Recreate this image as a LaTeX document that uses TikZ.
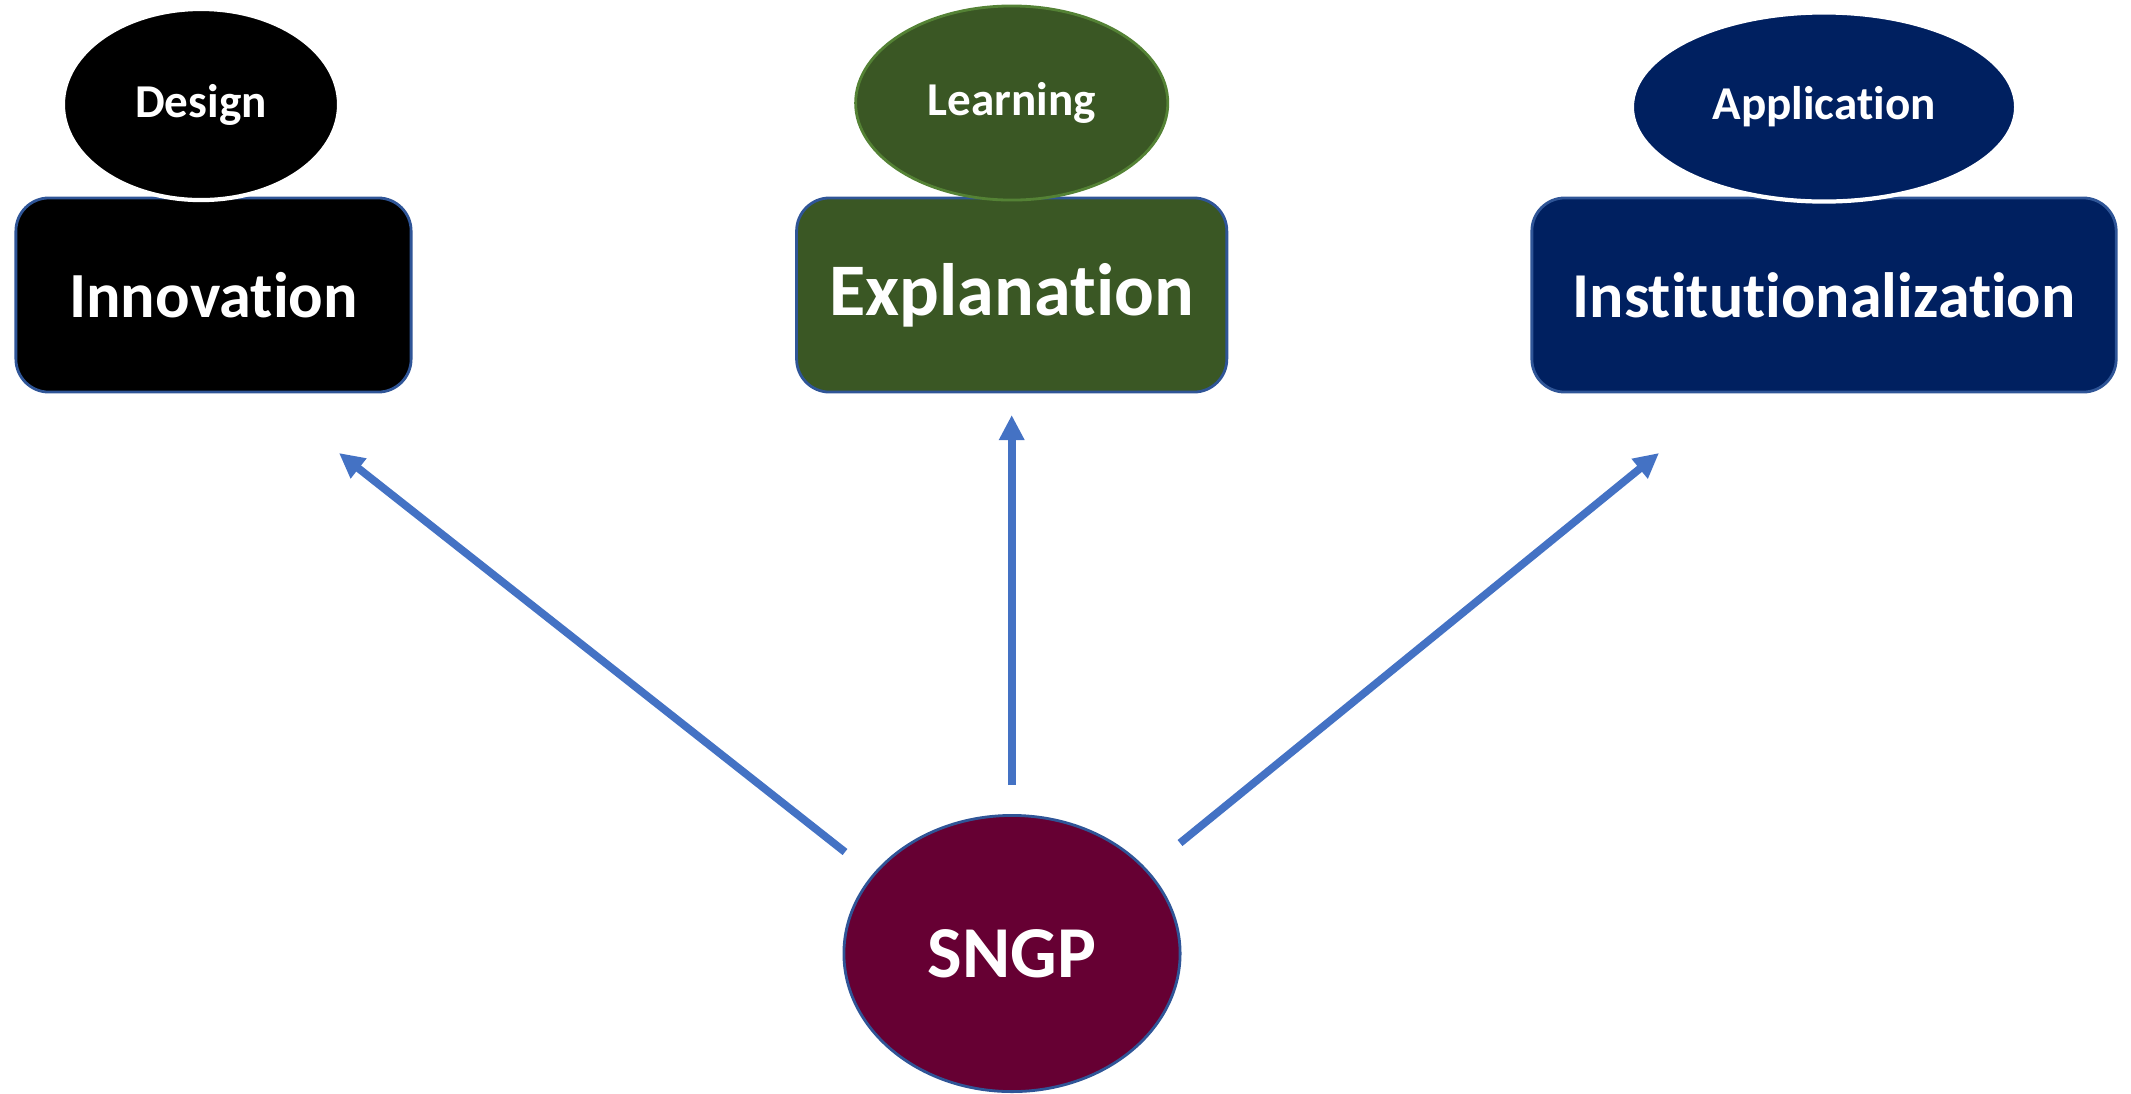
\documentclass[tikz,border=0pt]{standalone}
\usepackage{fontspec}
\setmainfont{Carlito}[Ligatures=NoCommon]
\usetikzlibrary{shapes.geometric,arrows.meta}
\definecolor{boxline}{HTML}{2F5597}
\definecolor{arrowblue}{HTML}{4472C4}
\definecolor{dgreen}{HTML}{3A5724}
\definecolor{lgreen}{HTML}{548235}
\definecolor{navy}{HTML}{002060}
\definecolor{wine}{HTML}{660033}
\tikzset{
  px/.style={x=0.01cm,y=-0.01cm},
  topbox/.style={rectangle, rounded corners=0.33cm, draw=boxline, line width=0.8pt, text=white, font=\bfseries, inner sep=0pt, minimum height=1.94cm},
  topell/.style={ellipse, text=white, font=\bfseries\fontsize{13.4}{15}\selectfont, inner sep=0pt},
  conn/.style={draw=arrowblue, line width=2.2pt, -{Triangle[length=0.25cm,width=0.24cm]}}
}
\begin{document}
\begin{tikzpicture}[px]
\useasboundingbox (0,0) rectangle (2131,1093);
% boxes
\node[topbox, fill=black, minimum width=3.95cm, font=\bfseries\fontsize{18.3}{22}\selectfont] (innov) at (213.5,295) {Innovation};
\node[topbox, fill=dgreen, minimum width=4.30cm, font=\bfseries\fontsize{21.1}{24}\selectfont] (expl) at (1011.7,295) {Explanation};
\node[topbox, fill=navy, minimum width=5.84cm, font=\bfseries\fontsize{18.2}{22}\selectfont] (inst) at (1824,295) {Institutionalization};
% ellipses
\node[topell, fill=black, draw=white, line width=1.2pt, minimum width=2.76cm, minimum height=1.91cm] (design) at (201,104.5) {Design};
\node[topell, fill=dgreen, draw=lgreen, line width=0.8pt, minimum width=3.12cm, minimum height=1.94cm] (learn) at (1011.7,103) {Learning};
\node[topell, fill=navy, draw=white, line width=1.2pt, minimum width=3.84cm, minimum height=1.89cm] (appl) at (1824,107) {Application};
% SNGP
\node[ellipse, fill=wine, draw=boxline, line width=0.8pt, text=white, font=\bfseries\fontsize{20.8}{24}\selectfont, inner sep=0pt, minimum width=3.36cm, minimum height=2.76cm] (sngp) at (1012,953.5) {SNGP};
% connector ends
\coordinate (tl) at (845,852);
\coordinate (hl) at (339,453);
\coordinate (tm) at (1011.7,785);
\coordinate (hm) at (1011.7,415);
\coordinate (tr) at (1180,843);
\coordinate (hr) at (1659,453);
\draw[conn] (tl) -- (hl);
\draw[conn] (tm) -- (hm);
\draw[conn] (tr) -- (hr);
\end{tikzpicture}
\end{document}
